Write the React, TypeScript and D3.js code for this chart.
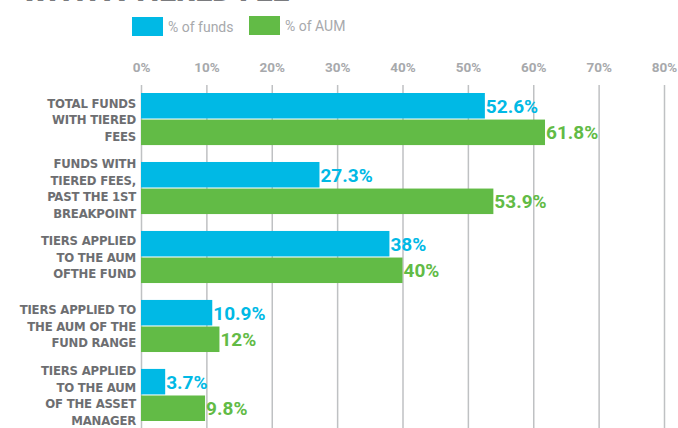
import React, { useRef, useEffect } from 'react';
import * as d3 from 'd3';

const categories = [
  ['TOTAL FUNDS', 'WITH TIERED', 'FEES'],
  ['FUNDS WITH', 'TIERED FEES,', 'PAST THE 1ST', 'BREAKPOINT'],
  ['TIERS APPLIED', 'TO THE AUM', 'OFTHE FUND'],
  ['TIERS APPLIED TO', 'THE AUM OF THE', 'FUND RANGE'],
  ['TIERS APPLIED', 'TO THE AUM', 'OF THE ASSET', 'MANAGER'],
];
const pctFunds = [52.6, 27.3, 38, 10.9, 3.7];
const pctAum = [61.8, 53.9, 40, 12, 9.8];
const valueLabelsFunds = ['52.6%', '27.3%', '38%', '10.9%', '3.7%'];
const valueLabelsAum = ['61.8%', '53.9%', '40%', '12%', '9.8%'];
const tickValues = [0, 10, 20, 30, 40, 50, 60, 70, 80];
const seriesNames = ['% of funds', '% of AUM'];

const BLUE = '#00b9e5';
const GREEN = '#62bb46';

const App = () => {
  const svgRef = useRef(null);
  const width = 678;
  const height = 428;

  useEffect(() => {
    const svg = d3.select(svgRef.current);
    svg.selectAll('*').remove();

    const x = d3.scaleLinear().domain([0, 80]).range([141, 664]);
    const keys = categories.map((_, i) => String(i));
    const y = d3.scaleBand().domain(keys).range([93, 421]).paddingInner(0.245);
    const ySub = d3.scaleBand().domain(['funds', 'aum']).range([0, y.bandwidth()]).paddingInner(0.04);

    // title, cut off at the top edge like the source image
    svg.append('text')
      .attr('x', 22)
      .attr('y', 1)
      .attr('font-family', 'Roboto, sans-serif')
      .attr('font-weight', 900)
      .attr('font-size', 30)
      .attr('fill', '#7a7b7e')
      .text('WITH A TIERED FEE');

    // legend
    const legend = svg.append('g');
    const legendItems = [
      { name: seriesNames[0], color: BLUE, x: 132, y: 17 },
      { name: seriesNames[1], color: GREEN, x: 249, y: 16 },
    ];
    legendItems.forEach((d) => {
      legend.append('rect').attr('x', d.x).attr('y', d.y).attr('width', 31).attr('height', 19).attr('fill', d.color);
      legend.append('text')
        .attr('x', d.x + 36)
        .attr('y', d.y + 15)
        .attr('font-family', 'Roboto, sans-serif')
        .attr('font-size', 14)
        .attr('fill', '#a7a9ac')
        .text(d.name);
    });

    // grid + ticks
    const xAxis = d3.axisTop(x)
      .tickValues(tickValues)
      .tickSize(-(height - 85))
      .tickFormat((v) => `${v}%`);
    const xg = svg.append('g').attr('transform', 'translate(0,85)').call(xAxis);
    xg.select('.domain').remove();
    xg.selectAll('line').attr('stroke', '#bfc1c3').attr('stroke-width', 1.5);
    xg.selectAll('text')
      .attr('y', -13)
      .attr('fill', '#a7a9ac')
      .attr('font-family', 'Roboto, sans-serif')
      .attr('font-weight', 'bold')
      .attr('font-size', 13.5);

    // bars
    const groups = svg.append('g')
      .selectAll('g')
      .data(categories)
      .enter()
      .append('g')
      .attr('transform', (_, i) => `translate(0,${y(String(i))})`);

    const series = [
      { key: 'funds', values: pctFunds, labels: valueLabelsFunds, color: BLUE },
      { key: 'aum', values: pctAum, labels: valueLabelsAum, color: GREEN },
    ];

    groups.each(function (lines, i) {
      const g = d3.select(this);
      series.forEach((s) => {
        g.append('rect')
          .attr('x', x(0))
          .attr('y', ySub(s.key))
          .attr('width', x(s.values[i]) - x(0))
          .attr('height', ySub.bandwidth())
          .attr('fill', s.color);
        g.append('text')
          .attr('x', x(s.values[i]) + 1)
          .attr('y', ySub(s.key) + ySub.bandwidth() / 2 + 7)
          .attr('fill', s.color)
          .attr('font-family', 'Roboto, sans-serif')
          .attr('font-weight', 'bold')
          .attr('font-size', 19)
          .text(s.labels[i]);
      });
      const lh = 16.5;
      const mid = y.bandwidth() / 2;
      const label = g.append('text')
        .attr('text-anchor', 'end')
        .attr('fill', '#6d6e71')
        .attr('font-family', "'DejaVu Sans Condensed', sans-serif")
        .attr('font-weight', 'bold')
        .attr('font-size', 13)
        .attr('letter-spacing', -0.2);
      lines.forEach((ln, j) => {
        label.append('tspan')
          .attr('x', 136)
          .attr('y', mid + (j - (lines.length - 1) / 2) * lh + 5)
          .text(ln);
      });
    });
  }, []);

  return (
    <svg
      ref={svgRef}
      width={width}
      height={height}
      style={{ position: 'absolute', left: 0, top: 0, background: '#fff' }}
    />
  );
};

export default App;
